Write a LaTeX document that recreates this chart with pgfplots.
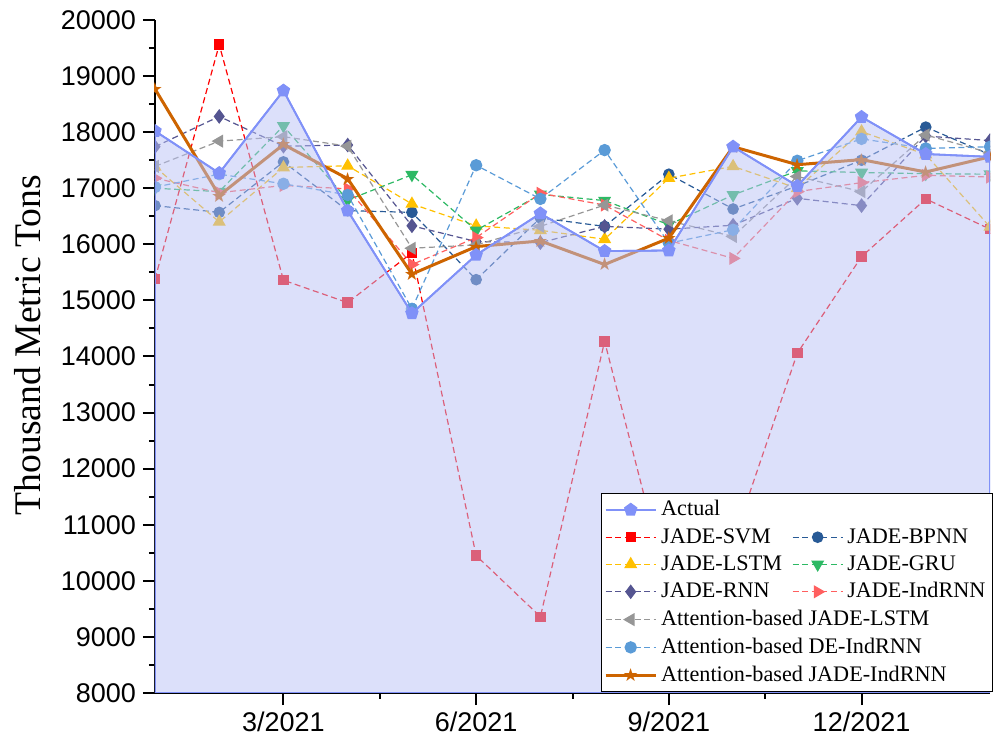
\documentclass[border=0pt]{standalone}
\usepackage{fontspec}
\setmainfont{Liberation Serif}
\newfontfamily\arialf{Liberation Sans}
\newfontfamily\symf{DejaVu Sans}
\usepackage{pgfplots}
\usepackage{pgfplotstable}
\pgfplotsset{compat=1.18}

\definecolor{actualc}{RGB}{128,145,248}
\definecolor{actualfill}{RGB}{185,193,245}
\definecolor{svmc}{RGB}{255,0,0}
\definecolor{bpnnc}{RGB}{40,90,150}
\definecolor{lstmc}{RGB}{255,192,0}
\definecolor{gruc}{RGB}{45,185,100}
\definecolor{rnnc}{RGB}{85,85,145}
\definecolor{indc}{RGB}{255,95,95}
\definecolor{ajlc}{RGB}{150,150,150}
\definecolor{adec}{RGB}{90,155,215}
\definecolor{ajic}{RGB}{205,100,0}

\pgfplotstableread{
m actual svm bpnn lstm gru rnn indrnn ajl ade aji
1 18020 15380 16690 17380 17000 17740 17180 17390 17020 18770
2 17270 19560 16570 16400 16940 18280 16920 17840 17250 16870
3 18740 15360 17470 17370 18110 17750 17050 17920 17080 17780
4 16600 14960 16600 17400 16790 17770 16990 17750 16880 17170
5 14770 15850 16570 16720 17240 16330 15640 15930 14850 15470
6 15810 10450 15370 16330 16250 16050 16120 15990 17410 15960
7 16550 9360 16470 16250 16890 16030 16910 16320 16810 16060
8 15880 14270 16320 16090 16780 16320 16700 16700 17680 15640
9 15890 9800 17250 17180 16350 16270 16070 16420 16020 16110
10 17740 10700 16630 17390 16880 16340 15750 16140 16260 17740
11 17040 14060 17040 17000 17310 16820 16940 17210 17490 17420
12 18270 15780 17500 18010 17280 16690 17100 16940 17880 17510
13 17610 16810 18090 17600 17260 17930 17230 17950 17710 17290
14 17560 16270 17600 16310 17250 17850 17200 17630 17740 17560
}\data

\pgfplotsset{
  dsh/.style={dash pattern=on 3pt off 1.8pt, line width=0.6pt},
  svmS/.style={dsh, color=svmc, mark=square*, mark size=2.3pt, mark options={solid}},
  bpnnS/.style={dsh, color=bpnnc, mark=*, mark size=2.6pt, mark options={solid}},
  lstmS/.style={dsh, color=lstmc, mark=triangle*, mark size=3.2pt, mark options={solid}},
  gruS/.style={dsh, color=gruc, mark=triangle*, mark size=3.2pt, mark options={solid, rotate=180}},
  rnnS/.style={dsh, color=rnnc, mark=diamond*, mark size=3.2pt, mark options={solid}},
  indS/.style={dsh, color=indc, mark=triangle*, mark size=3.2pt, mark options={solid, rotate=-90}},
  ajlS/.style={dsh, color=ajlc, mark=triangle*, mark size=3.2pt, mark options={solid, rotate=90}},
  adeS/.style={dsh, color=adec, mark=*, mark size=2.8pt, mark options={solid}},
  ajiS/.style={solid, color=ajic, line width=1.5pt, mark=text,
     text mark={\color{ajic}\symf\fontsize{9}{9}\selectfont\char"2605}},
  actS/.style={solid, color=actualc, line width=0.9pt, mark=pentagon*, mark size=3pt, mark options={solid}},
}

\begin{document}
\begin{tikzpicture}
\path[use as bounding box] (-77.5pt,-25pt) rectangle (420pt,346.5pt);
\begin{axis}[
  scale only axis, width=417.5pt, height=336.5pt,
  xmin=1, xmax=14, ymin=8000, ymax=20000,
  xtick={3,6,9,12}, xticklabels={3/2021,6/2021,9/2021,12/2021},
  minor x tick num=1,
  ytick={8000,9000,...,20000}, minor y tick num=1,
  scaled y ticks=false,
  axis x line*=bottom, axis y line*=left,
  tick align=outside,
  major tick length=6pt, minor tick length=3pt,
  every tick/.style={black, line width=1pt},
  axis line style={black, line width=1pt},
  tick label style={font=\arialf\fontsize{13.5}{15}\selectfont},
  /pgf/number format/assume math mode=true,
  y tick label style={/pgf/number format/1000 sep={}},
  ylabel={Thousand Metric Tons},
  ylabel style={font=\fontsize{18.8}{22}\selectfont, at={(axis description cs:-0.153,0.517)}, anchor=center},
  clip marker paths=true,
  legend columns=2,
  legend cell align=left,
  legend image code/.code={\draw[mark repeat=2,mark phase=2] plot coordinates {(0pt,0pt) (12.5pt,0pt) (25pt,0pt)};},
  legend style={at={(axis description cs:1,0)}, anchor=south east, xshift=1.5pt, yshift=0.5pt,
    draw=black, line width=0.6pt, fill=white, font=\fontsize{11.1}{12}\selectfont,
    inner sep=1.5pt, row sep=0.7pt,
    /tikz/every even column/.append style={column sep=3pt}},
]
\addplot[svmS, forget plot] table[x=m,y=svm]{\data};
\addplot[bpnnS, forget plot] table[x=m,y=bpnn]{\data};
\addplot[lstmS, forget plot] table[x=m,y=lstm]{\data};
\addplot[gruS, forget plot] table[x=m,y=gru]{\data};
\addplot[rnnS, forget plot] table[x=m,y=rnn]{\data};
\addplot[indS, forget plot] table[x=m,y=indrnn]{\data};
\addplot[ajlS, forget plot] table[x=m,y=ajl]{\data};
\addplot[adeS, forget plot] table[x=m,y=ade]{\data};
\addplot[ajiS, forget plot] table[x=m,y=aji]{\data};
\addplot[draw=actualc, line width=0.9pt, fill=actualfill, fill opacity=0.5, forget plot] table[x=m,y=actual]{\data} \closedcycle;
\addplot[actS, forget plot] table[x=m,y=actual]{\data};

\addlegendimage{actS}\addlegendentry{\rlap{Actual}}
\addlegendimage{empty legend}\addlegendentry{}
\addlegendimage{svmS}\addlegendentry{JADE-SVM}
\addlegendimage{bpnnS}\addlegendentry{JADE-BPNN}
\addlegendimage{lstmS}\addlegendentry{JADE-LSTM}
\addlegendimage{gruS}\addlegendentry{JADE-GRU}
\addlegendimage{rnnS}\addlegendentry{JADE-RNN}
\addlegendimage{indS}\addlegendentry{JADE-IndRNN}
\addlegendimage{ajlS}\addlegendentry{\rlap{Attention-based JADE-LSTM}}
\addlegendimage{empty legend}\addlegendentry{}
\addlegendimage{adeS}\addlegendentry{\rlap{Attention-based DE-IndRNN}}
\addlegendimage{empty legend}\addlegendentry{}
\addlegendimage{ajiS}\addlegendentry{\rlap{Attention-based JADE-IndRNN}}
\addlegendimage{empty legend}\addlegendentry{}
\end{axis}
\end{tikzpicture}
\end{document}
